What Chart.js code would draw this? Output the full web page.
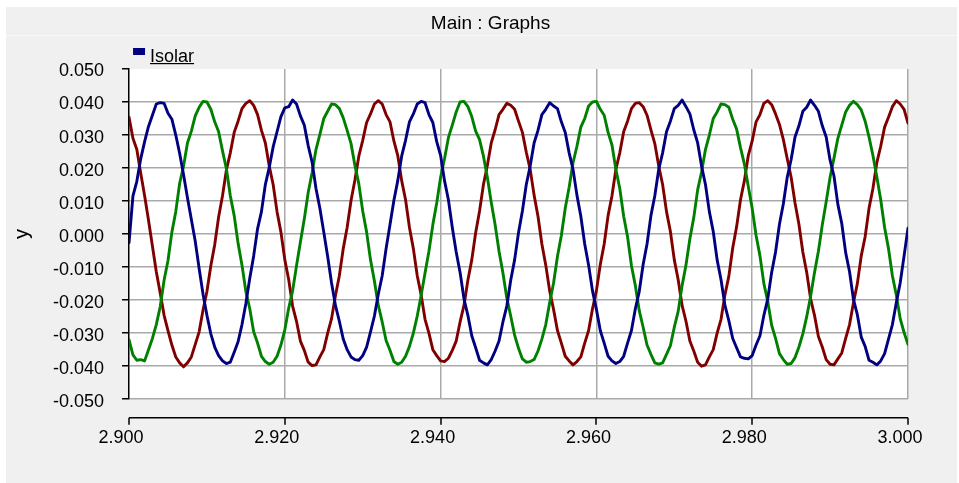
<!DOCTYPE html>
<html>
<head>
<meta charset="utf-8">
<script src="https://cdn.jsdelivr.net/npm/chart.js@4/dist/chart.umd.min.js"></script>
<style>
  html, body { margin: 0; padding: 0; background: #ffffff; }
  canvas { display: block; }
</style>
</head>
<body>
<canvas id="graph" width="959" height="483"></canvas>
<script>
// Sampling grid of the trace: 2.900 s to 3.000 s, one sample every 0.5 ms
const T_START = 2.9;
const T_STEP = 0.0005;

// Phase currents (A), one value per sample
const phaseA = [
  -0.0026, 0.0115, 0.0160, 0.0228, 0.0280, 0.0326, 0.0360, 0.0394, 0.0398, 0.0396,
  0.0366, 0.0348, 0.0300, 0.0244, 0.0180, 0.0110, 0.0044, -0.0022, -0.0104, -0.0182,
  -0.0246, -0.0302, -0.0342, -0.0368, -0.0384, -0.0392, -0.0388, -0.0358, -0.0326, -0.0274,
  -0.0210, -0.0134, -0.0066, 0.0016, 0.0068, 0.0150, 0.0202, 0.0264, 0.0310, 0.0356,
  0.0382, 0.0386, 0.0406, 0.0394, 0.0358, 0.0330, 0.0268, 0.0218, 0.0138, 0.0078,
  0.0006, -0.0068, -0.0148, -0.0216, -0.0264, -0.0318, -0.0350, -0.0372, -0.0380, -0.0382,
  -0.0368, -0.0342, -0.0296, -0.0248, -0.0182, -0.0126, -0.0044, 0.0028, 0.0102, 0.0162,
  0.0236, 0.0284, 0.0340, 0.0364, 0.0394, 0.0402, 0.0398, 0.0362, 0.0338, 0.0280,
  0.0238, 0.0162, 0.0104, 0.0020, -0.0054, -0.0116, -0.0196, -0.0246, -0.0308, -0.0344,
  -0.0382, -0.0390, -0.0396, -0.0380, -0.0354, -0.0324, -0.0266, -0.0218, -0.0140, -0.0078,
  0.0004, 0.0070, 0.0150, 0.0206, 0.0276, 0.0314, 0.0362, 0.0378, 0.0398, 0.0388,
  0.0380, 0.0340, 0.0308, 0.0246, 0.0196, 0.0118, 0.0054, -0.0030, -0.0094, -0.0172,
  -0.0228, -0.0292, -0.0330, -0.0370, -0.0384, -0.0392, -0.0386, -0.0370, -0.0330, -0.0292,
  -0.0226, -0.0174, -0.0092, -0.0030, 0.0056, 0.0116, 0.0196, 0.0246, 0.0310, 0.0342,
  0.0380, 0.0390, 0.0406, 0.0386, 0.0364, 0.0316, 0.0276, 0.0206, 0.0150, 0.0068,
  0.0008, -0.0078, -0.0138, -0.0216, -0.0262, -0.0316, -0.0344, -0.0372, -0.0376, -0.0378,
  -0.0368, -0.0336, -0.0308, -0.0246, -0.0196, -0.0116, -0.0054, 0.0030, 0.0092, 0.0172,
  0.0226, 0.0294, 0.0328, 0.0372, 0.0384, 0.0406, 0.0390, 0.0372, 0.0328, 0.0294,
  0.0224, 0.0176, 0.0090, 0.0032, -0.0056, -0.0114, -0.0198, -0.0244, -0.0312, -0.0340,
  -0.0382, -0.0388, -0.0396, -0.0384, -0.0362, -0.0318, -0.0274, -0.0208, -0.0148, -0.0066,
  0.0018
];

const phaseB = [
  -0.0320, -0.0366, -0.0382, -0.0380, -0.0384, -0.0350, -0.0316, -0.0274, -0.0220, -0.0140,
  -0.0080, 0.0006, 0.0068, 0.0154, 0.0206, 0.0276, 0.0312, 0.0358, 0.0384, 0.0402,
  0.0400, 0.0378, 0.0340, 0.0310, 0.0252, 0.0198, 0.0116, 0.0056, -0.0028, -0.0094,
  -0.0174, -0.0226, -0.0296, -0.0330, -0.0370, -0.0386, -0.0394, -0.0388, -0.0370, -0.0336,
  -0.0290, -0.0224, -0.0172, -0.0096, -0.0024, 0.0046, 0.0126, 0.0186, 0.0256, 0.0302,
  0.0350, 0.0372, 0.0394, 0.0392, 0.0380, 0.0352, 0.0314, 0.0274, 0.0208, 0.0152,
  0.0070, 0.0006, -0.0078, -0.0142, -0.0216, -0.0266, -0.0322, -0.0352, -0.0386, -0.0394,
  -0.0388, -0.0370, -0.0340, -0.0300, -0.0248, -0.0186, -0.0118, -0.0052, 0.0028, 0.0094,
  0.0172, 0.0228, 0.0292, 0.0330, 0.0370, 0.0400, 0.0402, 0.0386, 0.0356, 0.0312,
  0.0286, 0.0236, 0.0172, 0.0096, 0.0028, -0.0052, -0.0118, -0.0194, -0.0248, -0.0306,
  -0.0346, -0.0378, -0.0388, -0.0386, -0.0380, -0.0354, -0.0318, -0.0274, -0.0208, -0.0148,
  -0.0068, -0.0004, 0.0078, 0.0142, 0.0216, 0.0266, 0.0324, 0.0350, 0.0388, 0.0400,
  0.0402, 0.0378, 0.0360, 0.0308, 0.0270, 0.0196, 0.0138, 0.0054, -0.0008, -0.0096,
  -0.0156, -0.0232, -0.0282, -0.0336, -0.0364, -0.0390, -0.0394, -0.0390, -0.0364, -0.0338,
  -0.0282, -0.0234, -0.0156, -0.0094, -0.0014, 0.0050, 0.0134, 0.0188, 0.0256, 0.0300,
  0.0350, 0.0370, 0.0394, 0.0392, 0.0384, 0.0348, 0.0318, 0.0262, 0.0212, 0.0144,
  0.0078, -0.0004, -0.0066, -0.0150, -0.0204, -0.0276, -0.0316, -0.0362, -0.0380, -0.0394,
  -0.0392, -0.0374, -0.0342, -0.0302, -0.0250, -0.0188, -0.0116, -0.0052, 0.0028, 0.0098,
  0.0172, 0.0230, 0.0290, 0.0330, 0.0370, 0.0390, 0.0402, 0.0392, 0.0376, 0.0342,
  0.0294, 0.0238, 0.0174, 0.0104, 0.0020, -0.0044, -0.0126, -0.0184, -0.0256, -0.0298,
  -0.0334
];

const phaseC = [
  0.0354, 0.0290, 0.0256, 0.0184, 0.0116, 0.0042, -0.0036, -0.0114, -0.0178, -0.0246,
  -0.0292, -0.0336, -0.0372, -0.0390, -0.0402, -0.0390, -0.0372, -0.0334, -0.0296, -0.0230,
  -0.0174, -0.0096, -0.0032, 0.0052, 0.0116, 0.0194, 0.0246, 0.0308, 0.0342, 0.0380,
  0.0396, 0.0404, 0.0390, 0.0362, 0.0314, 0.0276, 0.0206, 0.0150, 0.0068, 0.0006,
  -0.0078, -0.0138, -0.0218, -0.0264, -0.0324, -0.0352, -0.0388, -0.0398, -0.0396, -0.0372,
  -0.0350, -0.0300, -0.0256, -0.0186, -0.0126, -0.0044, 0.0020, 0.0102, 0.0164, 0.0236,
  0.0284, 0.0338, 0.0364, 0.0394, 0.0404, 0.0394, 0.0362, 0.0340, 0.0282, 0.0238,
  0.0162, 0.0104, 0.0020, -0.0044, -0.0126, -0.0184, -0.0258, -0.0300, -0.0350, -0.0368,
  -0.0384, -0.0386, -0.0376, -0.0352, -0.0324, -0.0266, -0.0216, -0.0140, -0.0078, 0.0004,
  0.0070, 0.0150, 0.0208, 0.0276, 0.0316, 0.0362, 0.0378, 0.0396, 0.0390, 0.0378,
  0.0342, 0.0308, 0.0248, 0.0196, 0.0118, 0.0054, -0.0030, -0.0094, -0.0172, -0.0228,
  -0.0292, -0.0330, -0.0370, -0.0384, -0.0396, -0.0386, -0.0372, -0.0330, -0.0292, -0.0226,
  -0.0172, -0.0092, -0.0030, 0.0056, 0.0116, 0.0196, 0.0246, 0.0310, 0.0342, 0.0380,
  0.0396, 0.0398, 0.0386, 0.0360, 0.0316, 0.0274, 0.0206, 0.0150, 0.0068, 0.0008,
  -0.0078, -0.0138, -0.0216, -0.0264, -0.0324, -0.0354, -0.0388, -0.0400, -0.0396, -0.0372,
  -0.0350, -0.0300, -0.0258, -0.0184, -0.0128, -0.0042, 0.0022, 0.0104, 0.0162, 0.0238,
  0.0282, 0.0340, 0.0362, 0.0396, 0.0404, 0.0392, 0.0364, 0.0332, 0.0286, 0.0228,
  0.0172, 0.0094, 0.0030, -0.0054, -0.0116, -0.0196, -0.0246, -0.0310, -0.0342, -0.0380,
  -0.0394, -0.0396, -0.0378, -0.0360, -0.0316, -0.0274, -0.0208, -0.0150, -0.0066, -0.0008,
  0.0078, 0.0138, 0.0216, 0.0266, 0.0324, 0.0354, 0.0386, 0.0404, 0.0394, 0.0378,
  0.0336
];

const TITLE = 'Main : Graphs';
const SERIES_NAME = 'Isolar';
const Y_TITLE = 'y';

const FONT = "'Liberation Sans', Arial, sans-serif";

function toPoints(values) {
  return values.map((v, i) => ({ x: T_START + i * T_STEP, y: v }));
}

// Panel backgrounds, window title, detached x axis and the single-entry legend
const framePlugin = {
  id: 'frame',
  beforeDraw(chart) {
    const { ctx, chartArea: a, width, height } = chart;
    ctx.save();
    ctx.fillStyle = '#ffffff';
    ctx.fillRect(0, 0, width, height);
    ctx.fillStyle = '#f0f0f0';
    ctx.fillRect(6, 7, width - 8, height - 7);
    ctx.fillStyle = '#fafafa';
    ctx.fillRect(6, 35, width - 8, 1);
    ctx.fillStyle = '#ffffff';
    ctx.fillRect(a.left, a.top, a.right - a.left, a.bottom - a.top);

    ctx.font = '19px ' + FONT;
    ctx.fillStyle = '#000000';
    ctx.textAlign = 'center';
    ctx.textBaseline = 'middle';
    ctx.fillText(TITLE, (6 + width - 2) / 2 + 9, 24);
    ctx.restore();
  },
  afterDraw(chart) {
    const { ctx, chartArea: a, scales } = chart;
    const xs = scales.x;
    const axisY = a.bottom + 18.5;
    ctx.save();
    ctx.strokeStyle = '#000000';
    ctx.lineWidth = 1.5;
    ctx.beginPath();
    ctx.moveTo(a.left, axisY);
    ctx.lineTo(a.right, axisY);
    xs.ticks.forEach(t => {
      const px = Math.round(xs.getPixelForValue(t.value));
      ctx.moveTo(px, axisY);
      ctx.lineTo(px, axisY + 7);
    });
    ctx.stroke();

    // legend entry for the first trace
    const ds = chart.data.datasets[0];
    const bx = a.left + 4, by = a.top - 21;
    ctx.fillStyle = ds.borderColor;
    ctx.fillRect(bx, by, 12, 7);
    ctx.font = '18px ' + FONT;
    ctx.fillStyle = '#000000';
    ctx.textBaseline = 'alphabetic';
    ctx.textAlign = 'left';
    const tx = bx + 17, ty = a.top - 7.5;
    ctx.fillText(ds.label, tx, ty);
    const w = ctx.measureText(ds.label).width;
    ctx.fillRect(tx, ty + 1.5, w, 1.2);
    ctx.restore();
  }
};

new Chart(document.getElementById('graph'), {
  type: 'line',
  data: {
    datasets: [
      { label: SERIES_NAME, data: toPoints(phaseA), borderColor: '#000080' },
      { label: '', data: toPoints(phaseB), borderColor: '#008000' },
      { label: '', data: toPoints(phaseC), borderColor: '#800000' }
    ].map(d => Object.assign(d, {
      borderWidth: 2.9, pointRadius: 0, tension: 0, fill: false,
      borderJoinStyle: 'round', borderCapStyle: 'round'
    }))
  },
  options: {
    responsive: false,
    animation: false,
    devicePixelRatio: 1,
    layout: { padding: { left: 0, right: 51, top: 69, bottom: 5.2 } },
    plugins: {
      legend: { display: false },
      tooltip: { enabled: false },
      title: { display: false }
    },
    scales: {
      x: {
        type: 'linear',
        min: 2.9,
        max: 3.0,
        ticks: {
          stepSize: 0.02,
          callback: v => Number(v).toFixed(3),
          color: '#000000',
          font: { family: FONT, size: 18 },
          padding: 28.5,
          labelOffset: -8,
          maxRotation: 0,
          autoSkip: false
        },
        grid: {
          color: c => (c.tick && c.tick.value <= 2.9001) ? 'rgba(0,0,0,0)' : '#a9a9a9',
          lineWidth: 1.5,
          drawTicks: false
        },
        border: { display: false }
      },
      y: {
        min: -0.05,
        max: 0.05,
        ticks: {
          stepSize: 0.01,
          callback: v => Number(v).toFixed(3),
          color: '#000000',
          font: { family: FONT, size: 18 },
          padding: 18,
          labelOffset: 2.5
        },
        grid: {
          color: c => (c.tick && c.tick.value > 0.0499) ? 'rgba(0,0,0,0)' : '#a9a9a9',
          lineWidth: 1.5,
          tickColor: '#000000',
          tickLength: 7
        },
        border: { color: '#000000', width: 1.5 },
        title: {
          display: true,
          text: Y_TITLE,
          color: '#000000',
          font: { family: FONT, size: 20 },
          padding: { top: 10, bottom: 1 }
        }
      }
    }
  },
  plugins: [framePlugin]
});
</script>
</body>
</html>
